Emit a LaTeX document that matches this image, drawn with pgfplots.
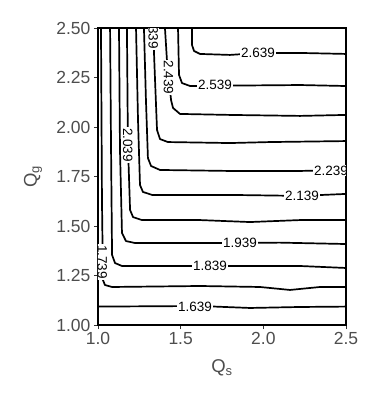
\documentclass[border=0pt]{standalone}
\usepackage{fontspec}
\setmainfont{Liberation Sans}
\usepackage{pgfplots}
\pgfplotsset{compat=1.18}
\definecolor{ticktext}{HTML}{4D4D4D}
\definecolor{tickmark}{HTML}{333333}
\tikzset{lbl/.style={fill=white, inner sep=0.8pt, font=\fontsize{13.5}{15}\selectfont, text=black},
  cl/.style={black, solid, line width=1.7pt, line join=round, line cap=round, mark=none}}
\begin{document}
\begin{tikzpicture}[x=1pt,y=1pt]
\useasboundingbox (0,0) rectangle (380,400);
\begin{axis}[
  at={(98pt,75pt)}, anchor=south west,
  width=248pt, height=297pt, scale only axis,
  xmin=1, xmax=2.5, ymin=1, ymax=2.5,
  xtick={1,1.5,2,2.5}, ytick={1,1.25,1.5,1.75,2,2.25,2.5},
  tick align=outside, tick pos=left,
  major tick length=4pt,
  every tick/.style={tickmark, line width=0.8pt},
  axis line style={line width=2.2pt, black},
  /pgf/number format/assume math mode=true,
  xticklabel style={font=\fontsize{17.5}{20}\selectfont, text=ticktext,
    /pgf/number format/.cd, fixed, fixed zerofill, precision=1},
  yticklabel style={font=\fontsize{17.5}{20}\selectfont, text=ticktext,
    /pgf/number format/.cd, fixed, fixed zerofill, precision=2},
  xlabel={Q\textsubscript{s}}, ylabel={Q\textsubscript{g}},
  xlabel style={font=\fontsize{18.5}{20}\selectfont, text=ticktext,
    at={(axis description cs:0.5,-0.145)}, anchor=center},
  ylabel style={font=\fontsize{18.5}{20}\selectfont, text=ticktext,
    at={(axis description cs:-0.262,0.5)}, anchor=center},
]
% 1.639
\addplot[cl] coordinates {(1.0,1.093)(1.617,1.096)(1.919,1.086)(2.222,1.091)(2.5,1.093)};
% 1.739
\addplot[cl] coordinates {(1.018,2.5)(1.024,1.631)(1.030,1.227)(1.042,1.202)(1.085,1.192)(1.617,1.197)(1.980,1.192)(2.161,1.177)(2.343,1.192)(2.5,1.192)};
% 1.839
\addplot[cl] coordinates {(1.073,2.5)(1.079,1.884)(1.085,1.354)(1.103,1.313)(1.145,1.298)(1.617,1.298)(2.222,1.298)(2.5,1.288)};
% 1.939
\addplot[cl] coordinates {(1.127,2.5)(1.133,1.884)(1.145,1.465)(1.169,1.424)(1.224,1.414)(1.738,1.414)(2.1,1.416)(2.5,1.409)};
% 2.039
\addplot[cl] coordinates {(1.175,2.5)(1.181,1.909)(1.194,1.581)(1.212,1.545)(1.266,1.530)(1.617,1.530)(1.919,1.520)(2.222,1.530)(2.5,1.530)};
% 2.139
\addplot[cl] coordinates {(1.230,2.5)(1.242,2.035)(1.254,1.707)(1.272,1.672)(1.327,1.657)(1.798,1.657)(2.222,1.652)(2.5,1.662)};
% 2.239
\addplot[cl] coordinates {(1.278,2.5)(1.290,2.136)(1.302,1.843)(1.321,1.803)(1.375,1.783)(1.798,1.778)(2.222,1.778)(2.5,1.783)};
% 2.339
\addplot[cl] coordinates {(1.333,2.5)(1.345,2.237)(1.357,1.985)(1.375,1.939)(1.423,1.924)(1.798,1.919)(2.040,1.924)(2.5,1.929)};
% 2.439
\addplot[cl] coordinates {(1.405,2.5)(1.417,2.338)(1.442,2.136)(1.454,2.096)(1.496,2.066)(1.798,2.061)(2.222,2.056)(2.5,2.061)};
% 2.539
\addplot[cl] coordinates {(1.484,2.5)(1.490,2.263)(1.508,2.222)(1.557,2.207)(1.798,2.209)(2.222,2.212)(2.5,2.207)};
% 2.639
\addplot[cl] coordinates {(1.5685,2.5)(1.5685,2.414)(1.581,2.384)(1.617,2.369)(1.798,2.364)(1.980,2.374)(2.222,2.374)(2.5,2.369)};
% labels
\node[lbl] at (axis cs:1.587,1.094) {1.639};
\node[lbl, rotate=-90] at (axis cs:1.026,1.318) {1.739};
\node[lbl] at (axis cs:1.677,1.298) {1.839};
\node[lbl] at (axis cs:1.859,1.414) {1.939};
\node[lbl, rotate=-90] at (axis cs:1.180,1.909) {2.039};
\node[lbl] at (axis cs:2.234,1.653) {2.139};
\node[lbl] at (axis cs:2.409,1.780) {2.239};
\node[lbl, rotate=-90] at (axis cs:1.334,2.48) {2.339};
\node[lbl, rotate=-90] at (axis cs:1.427,2.25) {2.439};
\node[lbl] at (axis cs:1.708,2.211) {2.539};
\node[lbl] at (axis cs:1.968,2.372) {2.639};
\end{axis}
\end{tikzpicture}
\end{document}
